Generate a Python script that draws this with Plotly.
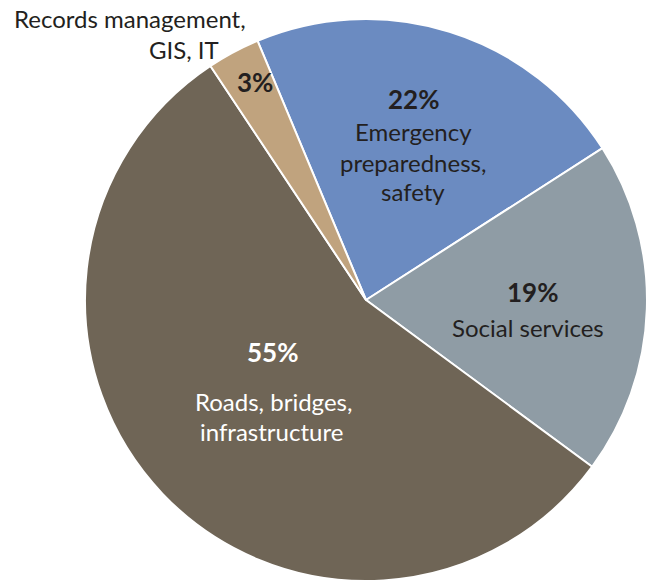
import plotly.graph_objects as go

# Share of spending by area (percent), clockwise from the top
categories = ["Emergency preparedness, safety", "Social services",
              "Roads, bridges, infrastructure", "Records management, GIS, IT"]
values = [22, 19, 55, 3]
colors = ["#6b8bc1", "#8f9ca5", "#6f6556", "#c0a37e"]

W, H = 647, 585
DARK = "#231f20"
FONT = "Lato"

fig = go.Figure(go.Pie(
    labels=categories,
    values=values,
    sort=False,
    direction="clockwise",
    rotation=-22.7,
    marker=dict(colors=colors, line=dict(color="white", width=2)),
    textinfo="none",
    hoverinfo="skip",
    showlegend=False,
    domain=dict(x=[85 / W, 1.0], y=[4 / H, 566 / H]),
))


def label(text, px, py, color=DARK, bold=False, size=24, anchor="center"):
    fig.add_annotation(
        text=f"<b>{text}</b>" if bold else text,
        x=px / W, y=1 - py / H, xref="paper", yref="paper",
        xanchor=anchor, yanchor="middle", showarrow=False,
        font=dict(family=FONT, size=size, color=color),
    )


def pct(v):
    return f"{v}%"


PCT_SIZE = 26

# Emergency preparedness, safety
label(pct(values[0]), 413, 99, bold=True, size=PCT_SIZE)
for line, y in zip(["Emergency", "preparedness,", "safety"], [131, 162, 192]):
    label(line, 413, y)

# Social services
label(pct(values[1]), 532, 292, bold=True, size=PCT_SIZE)
label("Social services", 528, 327)

# Roads, bridges, infrastructure
label(pct(values[2]), 272, 352, color="white", bold=True, size=PCT_SIZE)
label("Roads, bridges,", 273, 401, color="white")
label("infrastructure", 271, 431, color="white")

# Records management, GIS, IT
label(pct(values[3]), 255, 82, bold=True, size=PCT_SIZE)
label("Records management,", 248, 19, anchor="right")
label("GIS, IT", 221, 49, anchor="right")

fig.update_layout(
    width=W, height=H,
    margin=dict(l=0, r=0, t=0, b=0),
    paper_bgcolor="white", plot_bgcolor="white",
)

fig.write_html("out.html")
